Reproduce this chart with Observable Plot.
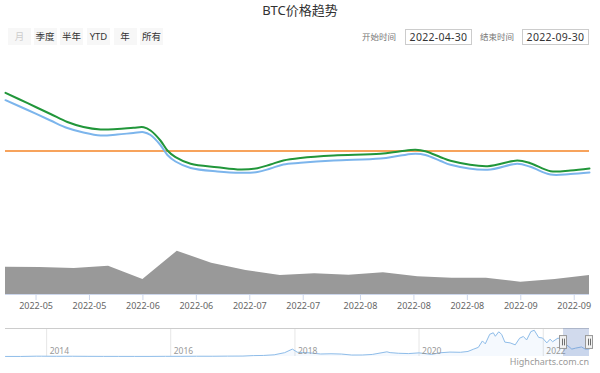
<!DOCTYPE html>
<html>
<head>
<meta charset="utf-8">
<script src="https://cdn.jsdelivr.net/npm/d3@7"></script>
<script src="https://cdn.jsdelivr.net/npm/@observablehq/plot@0.6"></script>
<style>
  html, body { margin: 0; padding: 0; background: #fff; }
  #wrap { position: relative; width: 600px; height: 373px; overflow: hidden;
          font-family: "Noto Sans", "Noto Sans CJK SC", sans-serif; }
  .abs { position: absolute; }
  #title { left: 0; width: 600px; top: 1px; text-align: center; font-size: 13px; color: #333; line-height: 18px; }
  .btn { position: absolute; top: 28px; width: 23px; height: 17px; background: #f7f7f7; color: #333;
         font-size: 9.5px; line-height: 17px; text-align: center; }
  .btn.off { color: #ccc; }
  .lbl { position: absolute; top: 28px; height: 17px; line-height: 17px; font-size: 8.5px; color: #777; }
  .inp { position: absolute; top: 29px; width: 65px; height: 14px; border: 1px solid #ccc; color: #333;
         font-size: 10.5px; line-height: 14px; text-align: center; letter-spacing: 0.3px; }
  #credit { right: 11px; top: 355px; font-size: 9px; color: #999; }
  svg { overflow: visible; }
</style>
</head>
<body>
<div id="wrap">
  <div id="title" class="abs"></div>
  <div id="buttons"></div>
  <div id="inputs"></div>
  <div id="price" class="abs" style="left:0;top:60px"></div>
  <div id="vol" class="abs" style="left:0;top:240px"></div>
  <div id="nav" class="abs" style="left:0;top:320px"></div>
  <div id="credit" class="abs"></div>
</div>
<script>
// ---------- data ----------
const chartTitle = "BTC价格趋势";
const rangeButtons = ["月", "季度", "半年", "YTD", "年", "所有"];
const rangeStart = "2022-04-30";
const rangeEnd = "2022-09-30";
const startLabel = "开始时间";
const endLabel = "结束时间";
const creditText = "Highcharts.com.cn";

// price lines (USD)
const lineDates = ["2022-04-30T00:00Z","2022-05-05T19:00Z","2022-05-11T19:00Z","2022-05-16T05:00Z",
  "2022-05-20T10:00Z","2022-05-24T22:00Z","2022-05-29T07:00Z","2022-06-02T12:00Z","2022-06-05T05:00Z",
  "2022-06-07T00:00Z","2022-06-09T14:00Z","2022-06-11T10:00Z","2022-06-13T13:00Z","2022-06-17T12:00Z",
  "2022-06-24T12:00Z","2022-06-30T14:00Z","2022-07-05T00:00Z","2022-07-08T10:00Z","2022-07-11T19:00Z",
  "2022-07-16T07:00Z","2022-07-25T00:00Z","2022-08-06T05:00Z","2022-08-11T12:00Z","2022-08-15T10:00Z",
  "2022-08-18T00:00Z","2022-08-22T00:00Z","2022-08-24T14:00Z","2022-09-03T07:00Z","2022-09-11T02:00Z",
  "2022-09-14T12:00Z","2022-09-19T19:00Z","2022-09-25T00:00Z","2022-09-30T00:00Z"];
const greenPrice = [37930,35540,33055,31215,30065,29490,29605,29881,30019,29260,26960,24660,23119,21601,20819,
  20290,20600,21440,22360,22935,23510,23901,24499,24821,24499,23119,22291,21049,22360,21739,19899,20060,20520];
const bluePrice = [36229,33975,31560,29835,28800,28110,28340,28685,28869,28225,25925,23625,22130,20635,19830,
  19531,19700,20520,21440,21831,22360,22820,23510,23901,23625,22245,21371,20221,21601,20911,19140,19255,19600];
const refPrice = 24545;

// volume (billion USD)
const volDates = ["2022-04-30","2022-05-09","2022-05-18","2022-05-27","2022-06-05","2022-06-14","2022-06-23",
  "2022-07-02","2022-07-11","2022-07-20","2022-07-29","2022-08-07","2022-08-16","2022-08-25","2022-09-03",
  "2022-09-12","2022-09-21","2022-09-30"];
const volume = [38.2,37.8,36.4,39.6,21.0,60.6,43.8,33.6,26.6,29.0,27.0,30.4,24.8,22.8,22.8,17.2,21.0,26.6];

const tickDates = ["2022-05-08","2022-05-22","2022-06-05","2022-06-19","2022-07-03","2022-07-17",
  "2022-08-01","2022-08-15","2022-08-29","2022-09-12","2022-09-26"];

// navigator history (USD)
const navDates = ["2013-05-04","2013-08-01","2013-11-01","2013-12-01","2014-03-01","2014-06-01","2014-09-01",
  "2014-12-01","2015-03-01","2015-06-01","2015-09-01","2015-12-01","2016-03-01","2016-06-01","2016-09-01",
  "2016-12-01","2017-03-01","2017-05-01","2017-07-01","2017-09-01","2017-11-01","2017-12-17","2018-01-15",
  "2018-02-15","2018-04-01","2018-06-01","2018-08-01","2018-10-01","2018-12-01","2019-02-01","2019-04-01",
  "2019-06-26","2019-07-15","2019-09-01","2019-11-01","2020-01-01","2020-03-15","2020-05-01","2020-07-01",
  "2020-09-01","2020-10-15","2020-11-15","2020-12-15","2021-01-08","2021-01-25","2021-02-20","2021-03-13",
  "2021-03-25","2021-04-14","2021-05-01","2021-05-20","2021-06-20","2021-07-20","2021-08-15","2021-09-06",
  "2021-09-25","2021-10-20","2021-11-09","2021-12-05","2021-12-28","2022-01-22","2022-02-10","2022-02-25",
  "2022-03-29","2022-04-30","2022-05-20","2022-06-18","2022-07-10","2022-08-14","2022-09-06","2022-09-30"];
const navPrice = [120,110,800,750,500,620,400,320,250,240,235,430,415,680,610,960,1080,2300,2700,4300,9800,
  19000,11000,10300,9200,6400,7000,6300,3700,3800,5300,12000,10000,8300,7500,9300,5400,9500,11300,10800,
  13000,18500,23500,40000,32500,57000,61000,52000,63500,57000,37000,35000,30000,47000,51500,42500,64000,
  67500,49000,47500,35000,44500,38000,47500,38500,29500,19000,21500,24500,18800,19500];
const navYearTicks = ["2014-01-01","2016-01-01","2018-01-01","2020-01-01","2022-01-01"];

// ---------- helpers ----------
const P = d3.utcParse("%Y-%m-%d");
const fam = '"Noto Sans", "Noto Sans CJK SC", sans-serif';

// ---------- header ----------
document.getElementById("title").textContent = chartTitle;
const btnX = [8, 33.5, 60, 87, 113.5, 140];
const bwrap = document.getElementById("buttons");
rangeButtons.forEach((t, i) => {
  const b = document.createElement("div");
  b.className = "btn" + (i === 0 ? " off" : "");
  b.style.left = btnX[i] + "px";
  b.textContent = t;
  bwrap.appendChild(b);
});
const iwrap = document.getElementById("inputs");
[[startLabel, 362, rangeStart, 405], [endLabel, 480, rangeEnd, 522]].forEach(([l, lx, v, vx]) => {
  const a = document.createElement("div");
  a.className = "lbl"; a.style.left = lx + "px"; a.textContent = l; iwrap.appendChild(a);
  const b = document.createElement("div");
  b.className = "inp"; b.style.left = vx + "px"; b.textContent = v; iwrap.appendChild(b);
});
document.getElementById("credit").textContent = creditText;

// ---------- price panel ----------
const green = lineDates.map((d, i) => ({date: d3.isoParse(d), v: greenPrice[i]}));
const blue = lineDates.map((d, i) => ({date: d3.isoParse(d), v: bluePrice[i]}));
const xDomain = [P(rangeStart), P(rangeEnd)];

document.getElementById("price").appendChild(Plot.plot({
  width: 600, height: 180,
  marginLeft: 5, marginRight: 11, marginTop: 0, marginBottom: 0,
  style: {background: "transparent", fontFamily: fam},
  x: {type: "utc", domain: xDomain, axis: null},
  y: {domain: [3960, 45360], axis: null},
  marks: [
    Plot.ruleY([refPrice], {stroke: "#f7a35c", strokeWidth: 2}),
    Plot.line(blue, {x: "date", y: "v", stroke: "#7cb5ec", strokeWidth: 2, curve: "catmull-rom"}),
    Plot.line(green, {x: "date", y: "v", stroke: "#21963a", strokeWidth: 2, curve: "catmull-rom"})
  ]
}));

// ---------- volume panel + x axis ----------
const vol = volDates.map((d, i) => ({date: P(d), v: volume[i]}));
document.getElementById("vol").appendChild(Plot.plot({
  width: 600, height: 80,
  marginLeft: 5, marginRight: 11, marginTop: 0, marginBottom: 26,
  style: {background: "transparent", fontFamily: fam},
  x: {type: "utc", domain: xDomain},
  y: {domain: [0, 75.6], axis: null},
  marks: [
    Plot.areaY(vol, {x: "date", y: "v", fill: "#999999"}),
    Plot.ruleY([0], {stroke: "#ccd6eb"}),
    Plot.axisX(tickDates.map(P), {tickSize: 6, tickPadding: 2, stroke: "#ccd6eb", fill: "#666",
      fontSize: 9, tickFormat: d3.utcFormat("%Y-%m"), label: null})
  ]
}));

// ---------- navigator ----------
const nav = navDates.map((d, i) => ({date: P(d), v: navPrice[i]}));
const years = navYearTicks.map(P);
const NMAX = 72000;
const handles = [P(rangeStart), P(rangeEnd)];
document.getElementById("nav").appendChild(Plot.plot({
  width: 600, height: 40,
  marginLeft: 5, marginRight: 11, marginTop: 8, marginBottom: 4,
  style: {background: "transparent", fontFamily: fam},
  x: {type: "utc", domain: [P(navDates[0]), P(rangeEnd)], axis: null},
  y: {domain: [0, NMAX], axis: null},
  marks: [
    Plot.ruleX(years, {stroke: "#e6e6e6"}),
    Plot.areaY(nav, {x: "date", y: "v", fill: "#7cb5ec", fillOpacity: 0.08}),
    Plot.line(nav, {x: "date", y: "v", stroke: "#8fbde9", strokeWidth: 1}),
    Plot.text(years, {x: d => d, text: d3.utcFormat("%Y"), frameAnchor: "bottom", lineAnchor: "middle",
      textAnchor: "start", dx: 3, dy: -5, fill: "#999", fontSize: 8.5}),
    Plot.ruleY([NMAX], {stroke: "#cccccc"}),
    Plot.rect([{a: handles[0], b: handles[1]}], {x1: "a", x2: "b", y1: 0, y2: NMAX,
      fill: "#6685c2", fillOpacity: 0.3}),
    Plot.rect(handles.map(d => ({d})), {x1: "d", x2: "d", y1: NMAX * 0.27, y2: NMAX * 0.73,
      insetLeft: -3.5, insetRight: -3.5, fill: "#f2f2f2", stroke: "#999"}),
    Plot.ruleX(handles, {y1: NMAX * 0.38, y2: NMAX * 0.62, dx: -1, stroke: "#333", strokeWidth: 0.7}),
    Plot.ruleX(handles, {y1: NMAX * 0.38, y2: NMAX * 0.62, dx: 1, stroke: "#333", strokeWidth: 0.7})
  ]
}));
</script>
</body>
</html>
